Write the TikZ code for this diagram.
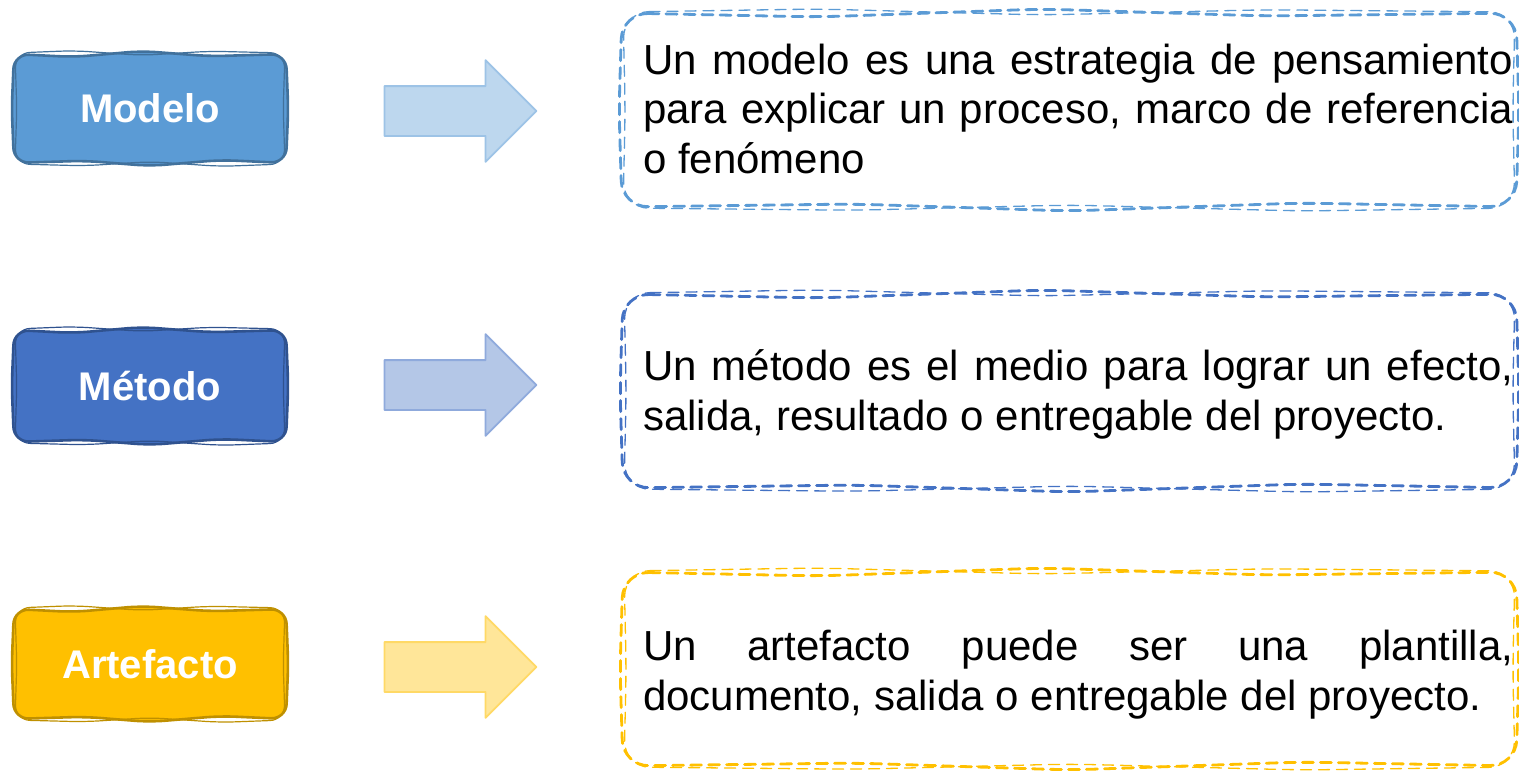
\documentclass[tikz,border=0pt]{standalone}
\usepackage{fontspec}
\setmainfont{Liberation Sans}
\usepackage{xcolor}
\usepackage{tikz}
\usetikzlibrary{shapes.arrows}
\definecolor{modelo}{HTML}{5B9BD5}
\definecolor{modeloline}{HTML}{41719C}
\definecolor{modeloarrow}{HTML}{BDD7EE}
\definecolor{modeloarrowline}{HTML}{9DC3E6}
\definecolor{metodo}{HTML}{4472C4}
\definecolor{metodoline}{HTML}{2F528F}
\definecolor{metodoarrow}{HTML}{B4C7E7}
\definecolor{metodoarrowline}{HTML}{8FAADC}
\definecolor{arte}{HTML}{FFC000}
\definecolor{arteline}{HTML}{BF9000}
\definecolor{artearrow}{HTML}{FFE699}
\definecolor{artearrowline}{HTML}{FFD966}
% wavy rounded box: options, x1, y1, x2, y2, wave size
\newcommand{\wavybox}[6]{%
  \draw[#1] (#2,#3) -- ({#2+0.22*(#4-#2)},{#3+2*#6}) -- ({#2+0.47*(#4-#2)},{#3-2*#6})
    -- ({#2+0.72*(#4-#2)},{#3+1.5*#6}) -- (#4,#3) -- ({#4+1.5*#6},{#3+0.5*(#5-#3)})
    -- (#4,#5) -- ({#2+0.76*(#4-#2)},{#5-2*#6}) -- ({#2+0.5*(#4-#2)},{#5+2*#6})
    -- ({#2+0.26*(#4-#2)},{#5-1.5*#6}) -- (#2,#5) -- ({#2-1.5*#6},{#3+0.5*(#5-#3)}) -- cycle;}
\tikzset{
  tag/.style={text=white, inner sep=0pt, font=\fontsize{40}{48}\selectfont\bfseries},
  tagshape/.style={rounded corners=15pt, line width=2.6pt},
  tagsketch/.style={rounded corners=15pt, line width=1.2pt},
  blockarrow/.style={single arrow, single arrow tip angle=90, single arrow head extend=26pt, minimum height=152pt, inner sep=0pt, text height=24pt, text depth=24pt, line width=1.8pt},
  frame/.style={rounded corners=26pt, dash pattern=on 11pt off 7pt, line width=2.8pt},
  framesketch/.style={rounded corners=26pt, dash pattern=on 11pt off 7pt, line width=1.3pt},
  note/.style={text width=870pt, align=justify, inner sep=0pt, anchor=base west, font=\fontsize{42}{50}\selectfont}
}

\begin{document}
\begin{tikzpicture}[x=1pt, y=-1pt, line cap=round, line join=round]
  \useasboundingbox (0,0) rectangle (1519,771);
  % left tags
  \wavybox{tagshape, fill=modelo, draw=modeloline}{14}{54}{286}{163}{1.5}
  \wavybox{tagsketch, draw=modeloline}{15}{53}{285}{164}{-1.2}
  \wavybox{tagshape, fill=metodo, draw=metodoline}{14}{330}{286}{442}{1.5}
  \wavybox{tagsketch, draw=metodoline}{15}{329}{285}{443}{-1.2}
  \wavybox{tagshape, fill=arte, draw=arteline}{14}{609}{286}{719}{1.5}
  \wavybox{tagsketch, draw=arteline}{15}{608}{285}{720}{-1.2}
  \node[tag] (modelo) at (150,108) {Modelo};
  \node[tag] (metodo) at (150,386) {Método};
  \node[tag] (artefacto) at (150,664) {Artefacto};
  % arrows
  \node[blockarrow, fill=modeloarrow, draw=modeloarrowline] (modeloarr) at (448,111) {};
  \node[blockarrow, fill=metodoarrow, draw=metodoarrowline] (metodoarr) at (448,385) {};
  \node[blockarrow, fill=artearrow, draw=artearrowline] (artearr) at (448,667) {};
  % dashed frames
  \wavybox{frame, draw=modelo}{622}{13}{1516}{207}{2}
  \wavybox{framesketch, draw=modelo}{623}{12}{1515}{208}{-1.5}
  \wavybox{frame, draw=metodo}{623}{294}{1516}{488}{2}
  \wavybox{framesketch, draw=metodo}{624}{293}{1515}{489}{-1.5}
  \wavybox{frame, draw=arte}{623}{572}{1516}{766}{2}
  \wavybox{framesketch, draw=arte}{624}{571}{1515}{767}{-1.5}
  % texts
  \node[note] (modelotxt) at (643,74) {Un modelo es una estrategia de pensamiento\linebreak para explicar un proceso, marco de referencia\linebreak o fenómeno};
  \node[note] (metodotxt) at (643,380) {Un método es el medio para lograr un efecto,\linebreak salida, resultado o entregable del proyecto.};
  \node[note] (artetxt) at (643,660) {Un artefacto puede ser una plantilla,\linebreak documento, salida o entregable del proyecto.};
\end{tikzpicture}
\end{document}
